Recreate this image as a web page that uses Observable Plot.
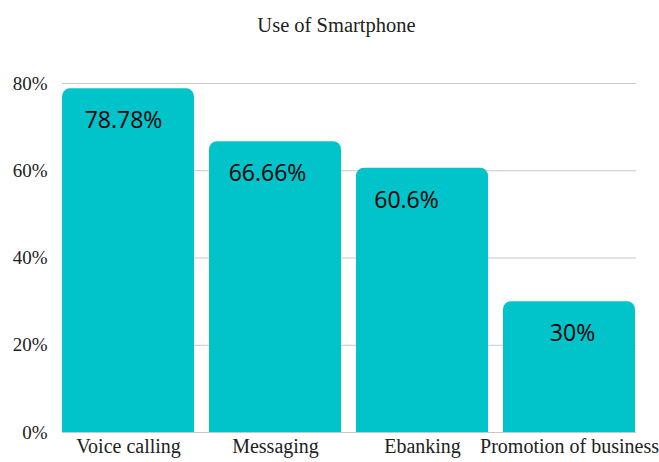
<!DOCTYPE html>
<html>
<head>
<meta charset="utf-8">
<script src="https://cdn.jsdelivr.net/npm/d3@7"></script>
<script src="https://cdn.jsdelivr.net/npm/@observablehq/plot@0.6"></script>
<style>
  html, body { margin: 0; padding: 0; background: #fff; }
  #wrap { width: 659px; height: 462px; overflow: hidden; position: relative; }
  #title { height: 50px; line-height: 50px; text-align: center; font-family: "Liberation Serif", serif; font-size: 20.5px; color: #222; padding-left: 14px; box-sizing: border-box; }
  #chart g[aria-label="x-axis tick label"] text { font-size: 20px; }
</style>
</head>
<body>
<div id="wrap">
  <div id="title">Use of Smartphone</div>
  <div id="chart"></div>
</div>
<script>
const categories = ["Voice calling", "Messaging", "Ebanking", "Promotion of business"];
const values = [0.7878, 0.6666, 0.606, 0.30];
const valueLabels = ["78.78%", "66.66%", "60.6%", "30%"];
const yTicks = [0, 0.2, 0.4, 0.6, 0.8];
const labelDx = [-5, -8, -16, 3];

const data = categories.map((c, i) => ({category: c, value: values[i], label: valueLabels[i], dx: labelDx[i]}));
const teal = "#00c4ca";

const chart = Plot.plot({
  width: 659,
  height: 412,
  marginTop: 33,
  marginBottom: 30,
  marginLeft: 62,
  marginRight: 23,
  style: {fontFamily: "Liberation Serif, serif", fontSize: "19px", color: "#222", background: "#fff"},
  x: {domain: categories, label: null, padding: 0.1, paddingOuter: 0, tickSize: 0, tickPadding: 6},
  y: {domain: [0, 0.8], label: null, ticks: yTicks, tickFormat: d => Math.round(d * 100) + "%", tickSize: 0, tickPadding: 15},
  marks: [
    Plot.gridY(yTicks, {stroke: "#c8c8c8", strokeOpacity: 1, strokeWidth: 1}),
    Plot.barY(data, {x: "category", y: "value", fill: teal, rx: 8}),
    Plot.barY(data, {x: "category", y1: 0, y2: d => d.value / 2, fill: teal}),
    ...data.map(d => Plot.text([d], {x: "category", y: "value", text: "label", dy: 32, dx: d.dx, fill: "#000",
      fontFamily: "Open Sans, sans-serif", fontSize: 23, textAnchor: "middle"}))
  ]
});
document.getElementById("chart").appendChild(chart);
</script>
</body>
</html>
